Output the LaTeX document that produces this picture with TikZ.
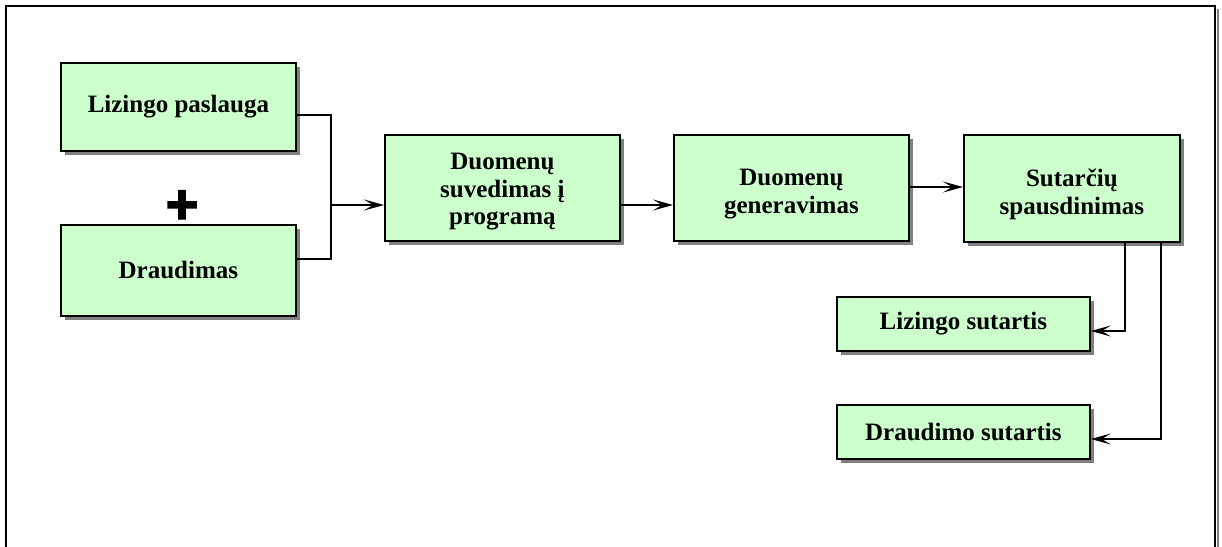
\documentclass[tikz,border=0pt]{standalone}
\usepackage{fontspec}
\setmainfont{Liberation Serif}
\newfontfamily\plusfont[FakeBold=2.5]{Liberation Sans}
\usetikzlibrary{arrows.meta}
\definecolor{boxgreen}{HTML}{CCFFCC}
\definecolor{shadowgray}{HTML}{808080}
\tikzset{
  x=1pt,y=-1pt,
  stepbox/.style={draw=black,line width=1.8pt,fill=boxgreen,inner sep=0pt},
  boxtext/.style={align=center,font=\fontsize{25}{27.5}\selectfont\bfseries,inner sep=0pt},
  conn/.style={draw=black,line width=1.5pt},
  arr/.style={conn,-{Stealth[length=20pt,width=11pt,inset=9pt]}},
}
\newcommand{\shadowbox}[7]{% name, x1,y1,x2,y2,text,text shift
  \fill[shadowgray] (#2+5,#3+5) rectangle (#4+5,#5+5);
  \node[stepbox,minimum width=#4-#2,minimum height=#5-#3,anchor=north west] (#1) at (#2,#3) {};
  \node[boxtext] (#1-text) at ([yshift=#7]#1.center) {#6};
}
\begin{document}
\begin{tikzpicture}
\useasboundingbox (0,0) rectangle (1222,546);
% outer frame
\begin{scope}
\clip (0,0) rectangle (1222,546);
\draw[shadowgray,line width=2.5pt] (1218,9) -- (1218,560);
\draw[black,line width=2pt] (6,560) -- (6,6) -- (1215,6) -- (1215,560);
\end{scope}
\shadowbox{lp}{60}{62}{295}{150}{Lizingo paslauga}{0pt}
\shadowbox{dr}{60}{224}{295}{315}{Draudimas}{0pt}
\shadowbox{ds}{384}{134}{619}{240}{Duomenų\\suvedimas į\\programą}{-4pt}
\shadowbox{dg}{673}{134}{908}{240}{Duomenų\\generavimas}{-6pt}
\shadowbox{ss}{963}{134}{1179}{241}{Sutarčių\\spausdinimas}{-6pt}
\shadowbox{ls}{836}{296}{1089}{350}{Lizingo sutartis}{0pt}
\shadowbox{dst}{836}{404}{1089}{458}{Draudimo sutartis}{0pt}
\node[font=\plusfont\bfseries\fontsize{56}{56}\selectfont,inner sep=0pt] (plus) at (182,207) {+};
\coordinate (j) at (331,205);
\draw[conn] (lp.east |- 0,115) -| (j);
\draw[conn] (dr.east |- 0,259) -| (j);
\draw[arr] (j) -- (ds.west |- j);
\draw[arr] (ds.east |- 0,205) -- (dg.west |- 0,205);
\draw[arr] (dg.east |- 0,187) -- (ss.west |- 0,187);
\draw[arr] (ss.south -| 1125,0) |- (ls.east |- 0,331);
\draw[arr] (ss.south -| 1161,0) |- (dst.east |- 0,439);
\end{tikzpicture}
\end{document}
